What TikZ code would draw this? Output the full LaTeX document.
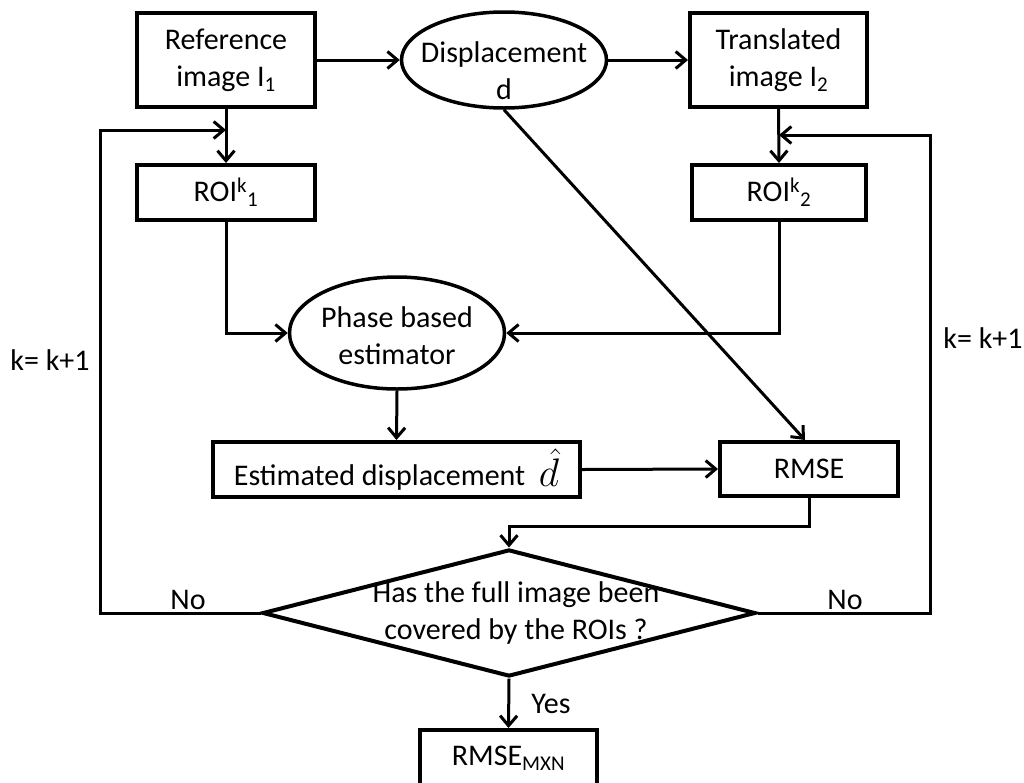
\documentclass[tikz,border=0pt]{standalone}
\usepackage{fontspec}
\setmainfont{Carlito}
\usetikzlibrary{shapes.geometric,arrows.meta}
\begin{document}
\begin{tikzpicture}[x=1pt,y=-1pt,
  every node/.style={font=\fontsize{30}{37}\selectfont},
  box/.style={draw,line width=4pt,inner sep=0pt,align=center},
  ell/.style={draw,ellipse,line width=3.5pt,inner sep=0pt},
  dia/.style={draw,diamond,line width=4pt,inner sep=0pt},
  txt/.style={align=center,inner sep=0pt},
  conn/.style={line width=3pt,-{Straight Barb[length=10pt,width=17pt]}},
  plain/.style={line width=3pt}]
\useasboundingbox (0,0) rectangle (1024,782);

\node[box,minimum width=178pt,minimum height=94pt] (ref) at (226,60) {Reference\\image I\textsubscript{1}};
\node[ell,minimum width=205pt,minimum height=96pt] (disp) at (504,60) {};
\node[txt] (disptext) at (504,71) {Displacement\\d};
\node[box,minimum width=177pt,minimum height=94pt] (trans) at (778.5,60) {Translated\\image I\textsubscript{2}};

\node[box,minimum width=178pt,minimum height=55pt] (roi1) at (226,192.5) {ROI\textsuperscript{k}\textsubscript{1}};
\node[box,minimum width=174pt,minimum height=55pt] (roi2) at (779,192.5) {ROI\textsuperscript{k}\textsubscript{2}};

\node[ell,minimum width=215pt,minimum height=112pt] (phase) at (397,333) {};
\node[txt] (phasetext) at (397,336) {Phase based\\estimator};

\node[box,minimum width=367pt,minimum height=55pt] (est) at (396.5,469.5) {Estimated displacement\ \ \raisebox{-0.05em}{\scalebox{1.6}{$\hat{d}$}}};
\node[box,minimum width=178pt,minimum height=54pt] (rmse) at (809,469) {RMSE};

\node[dia,minimum width=493pt,minimum height=127pt] (dia) at (509,613) {};
\node[txt] (diatext) at (516,613) {Has the full image been\\covered by the ROIs ?};

\node[box,minimum width=177pt,minimum height=62pt] (mxn) at (508.5,761) {};
\node[txt] (mxntext) at (508.5,758) {RMSE\textsubscript{MXN}};

% labels
\node[txt] (nol) at (188,600) {No};
\node[txt] (nor) at (845,600) {No};
\node[txt] (kl) at (50,360) {k= k+1};
\node[txt] (kr) at (983,338) {k= k+1};
\node[txt] (yes) at (551,704) {Yes};

% connectors
\draw[conn] (ref.east) -- (disp.west);
\draw[conn] (disp.east) -- (trans.west);
\draw[conn] (ref.south) -- (roi1.north);
\draw[conn] (trans.south) -- (roi2.north);
\draw[conn] (roi1.south) |- (phase.west);
\draw[conn] (roi2.south) |- (phase.east);
\draw[conn] (disp.south) -- ([xshift=-4pt]rmse.north);
\draw[conn] (phase.south) -- (est.north);
\draw[conn] (est.east) -- (rmse.west);
\coordinate (rmsebend) at (809,526);
\draw[conn] (rmse.south) -- (rmsebend) -| (dia.north);
\draw[conn] (dia.south) -- (mxn.north);

\coordinate (lb) at (100,613);
\coordinate (lt) at (100,130);
\draw[conn] (dia.west) -- (lb) -- (lt) -- (roi1.north |- lt);
\coordinate (rb) at (930,613);
\coordinate (rt) at (930,135);
\draw[conn] (dia.east) -- (rb) -- (rt) -- (roi2.north |- rt);
\end{tikzpicture}
\end{document}
